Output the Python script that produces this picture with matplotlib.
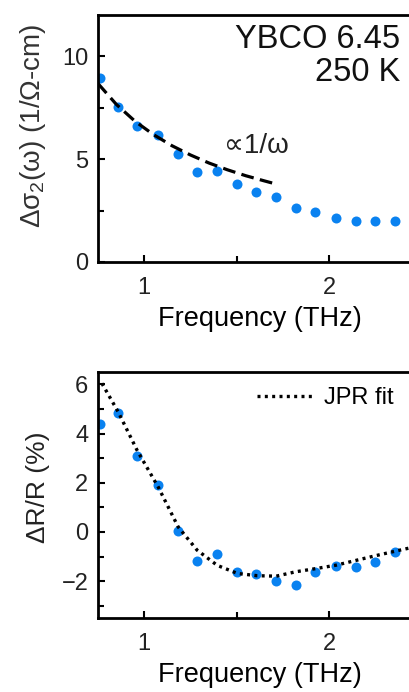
"""
YBCO 6.45 at 250 K: sigma_2 and reflectivity change vs frequency
"""
import numpy as np
import matplotlib
matplotlib.use('Agg')
import matplotlib.pyplot as plt
from matplotlib.ticker import MultipleLocator

plt.rcParams['font.family'] = ['Liberation Sans', 'DejaVu Sans']
plt.rcParams['mathtext.fontset'] = 'custom'
plt.rcParams['mathtext.rm'] = 'Liberation Sans'
plt.rcParams['mathtext.default'] = 'regular'

# frequencies (THz) of the measured points
freq = [0.762, 0.859, 0.962, 1.076, 1.184, 1.286, 1.395, 1.503,
        1.605, 1.714, 1.822, 1.924, 2.038, 2.146, 2.249, 2.357]

# top panel: delta sigma_2 (1/Ohm-cm)
sigma2 = [8.92, 7.54, 6.60, 6.18, 5.23, 4.38, 4.43, 3.79,
          3.38, 3.14, 2.64, 2.41, 2.12, 1.99, 2.00, 1.98]

# 1/omega guide line
inv_f = [0.75, 0.85, 0.95, 1.05, 1.15, 1.25, 1.35, 1.45, 1.55, 1.65, 1.70]
inv_y = [8.67, 7.65, 6.84, 6.19, 5.65, 5.20, 4.81, 4.48, 4.19, 3.94, 3.82]

# bottom panel: delta R / R (%)
dRR = [4.39, 4.84, 3.10, 1.89, 0.02, -1.18, -0.88, -1.65,
       -1.73, -1.99, -2.15, -1.62, -1.38, -1.43, -1.22, -0.81]

# JPR fit curve
fit_f = [0.771, 0.859, 0.962, 1.076, 1.184, 1.286, 1.395, 1.505, 1.61,
         1.714, 1.82, 1.93, 2.04, 2.15, 2.25, 2.36, 2.45]
fit_y = [6.04, 4.88, 3.31, 1.82, 0.20, -0.74, -1.36, -1.69, -1.78,
         -1.80, -1.62, -1.49, -1.35, -1.15, -0.97, -0.78, -0.63]

blue = '#0a82f0'
W, H = 409, 692
fig = plt.figure(figsize=(W / 100, H / 100), dpi=100)


def ax_at(x0, y0, x1, y1):
    # pixel box -> figure fraction
    return fig.add_axes([x0 / W, 1 - y1 / H, (x1 - x0) / W, (y1 - y0) / H])


def style(ax):
    for s in ax.spines.values():
        s.set_linewidth(2.0)
    ax.tick_params(which='both', direction='in', width=1.5, labelsize=17,
                   labelcolor='#222222')
    ax.tick_params(which='major', length=5)
    ax.tick_params(which='minor', length=4)
    ax.tick_params(axis='x', pad=11)
    ax.tick_params(axis='y', pad=7)
    ax.xaxis.set_major_locator(MultipleLocator(1))
    ax.xaxis.set_minor_locator(MultipleLocator(0.5))
    ax.set_xlim(0.75, 2.5)
    ax.set_xlabel('Frequency (THz)', fontsize=19.5, labelpad=5)


# right edge of the axes lies past the figure edge (x = 2.5 THz)
xr = 144 + 1.5 * 185

ax1 = ax_at(98, 15, xr, 262)
style(ax1)
ax1.plot(freq, sigma2, 'o', color=blue, ms=7.2, mec='none', zorder=2)
ax1.plot(inv_f, inv_y, color='black', lw=2.3, ls=(0, (4, 2)), zorder=3)
ax1.set_ylim(0, 12)
ax1.yaxis.set_major_locator(MultipleLocator(5))
ax1.yaxis.set_minor_locator(MultipleLocator(2.5))
ax1.set_ylabel('Δσ$_2$(ω) (1/Ω-cm)', fontsize=20, color='#333333')
ax1.yaxis.set_label_coords(-0.155, 0.55)
ax1.text(1.43, 5.3, '∝1/ω', fontsize=20, color='#222222')
ax1.text(400 / W, 1 - 24 / H, 'YBCO 6.45\n250 K', transform=fig.transFigure,
         ha='right', va='top', fontsize=23.5, linespacing=1.1,
         color='#111111')

ax2 = ax_at(98, 372, xr, 618)
style(ax2)
ax2.plot(freq, dRR, 'o', color=blue, ms=7.2, mec='none', zorder=2)
ax2.plot(fit_f, fit_y, color='black', lw=2.4, ls=(0, (0.9, 1.3)),
         zorder=3, label='JPR fit')
ax2.set_ylim(-3.5, 6.5)
ax2.yaxis.set_major_locator(MultipleLocator(2))
ax2.yaxis.set_minor_locator(MultipleLocator(1))
ax2.set_ylabel('ΔR/R (%)', fontsize=19, color='#222222')
ax2.yaxis.set_label_coords(-0.148, 0.53)
ax2.legend(loc='upper left', bbox_to_anchor=(248 / W, 1 - 378 / H),
           bbox_transform=fig.transFigure, frameon=False, fontsize=17,
           handlelength=2.3, handletextpad=0.5, borderaxespad=0)

fig.savefig('out.png', dpi=100)
